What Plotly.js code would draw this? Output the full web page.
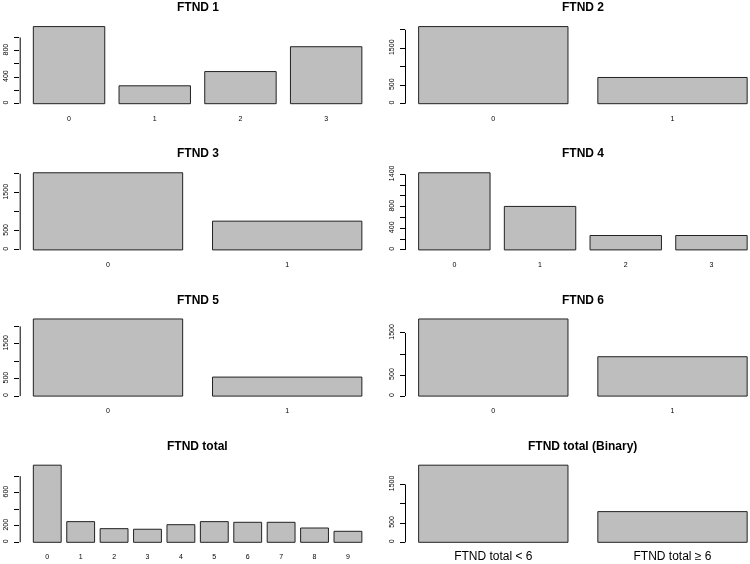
<!DOCTYPE html>
<html>
<head>
<meta charset="utf-8">
<script src="https://cdn.plot.ly/plotly-3.0.1.min.js"></script>
<style>
  html, body { margin: 0; padding: 0; background: #fff; }
  #plot { width: 750px; height: 564px; will-change: transform; -webkit-font-smoothing: antialiased; }
</style>
</head>
<body>
<div id="plot"></div>
<script>
// category labels
var cats4 = ['0', '1', '2', '3'];
var cats2 = ['0', '1'];
var catsTotal = ['0', '1', '2', '3', '4', '5', '6', '7', '8', '9'];
var catsBinary = ['FTND total < 6', 'FTND total \u2265 6'];

// counts
var ftnd1 = [1164, 270, 485, 860];
var ftnd2 = [2088, 710];
var ftnd3 = [2026, 755];
var ftnd4 = [1430, 806, 267, 267];
var ftnd5 = [2213, 546];
var ftnd6 = [1833, 936];
var ftndTotal = [933, 250, 165, 158, 213, 250, 242, 242, 173, 133];
var ftndBinary = [2000, 796];

// y axis ticks and which of them get a label
var ticks1 = [0, 200, 400, 600, 800, 1000];
var labels1 = ['0', '', '400', '', '800', ''];
var ticks2 = [0, 500, 1000, 1500, 2000];
var labels2 = ['0', '500', '', '1500', ''];
var ticks4 = [0, 200, 400, 600, 800, 1000, 1200, 1400];
var labels4 = ['0', '', '400', '', '800', '', '', '1400'];
var ticks6 = [0, 500, 1000, 1500];
var labels6 = ['0', '500', '', '1500'];
var ticksTotal = [0, 200, 400, 600, 800];
var labelsTotal = ['0', '200', '', '600', ''];

var panels = [
  {title: 'FTND 1', cats: cats4, vals: ftnd1, ticks: ticks1, labels: labels1},
  {title: 'FTND 2', cats: cats2, vals: ftnd2, ticks: ticks2, labels: labels2},
  {title: 'FTND 3', cats: cats2, vals: ftnd3, ticks: ticks2, labels: labels2},
  {title: 'FTND 4', cats: cats4, vals: ftnd4, ticks: ticks4, labels: labels4},
  {title: 'FTND 5', cats: cats2, vals: ftnd5, ticks: ticks2, labels: labels2},
  {title: 'FTND 6', cats: cats2, vals: ftnd6, ticks: ticks6, labels: labels6},
  {title: 'FTND total', cats: catsTotal, vals: ftndTotal, ticks: ticksTotal, labels: labelsTotal},
  {title: 'FTND total (Binary)', cats: catsBinary, vals: ftndBinary, ticks: ticks6, labels: labels6, big: true}
];

var W = 750, H = 564;
var font = 'Liberation Sans, Arial, sans-serif';
var plotW = 354.8, plotH = 83.3;
var colX = [20.2, 405.5];

var data = [];
var layout = {
  width: W, height: H,
  margin: {l: 0, r: 0, t: 0, b: 0},
  paper_bgcolor: '#fff', plot_bgcolor: '#fff',
  showlegend: false,
  font: {family: font, color: '#000'},
  annotations: [],
  shapes: []
};

panels.forEach(function (p, i) {
  var row = Math.floor(i / 2), col = i % 2;
  var n = p.vals.length;
  var xs = p.vals.map(function (v, k) { return 0.7 + 1.2 * k; });
  var ext = 0.04 * (1.2 * n - 0.2);
  var lo = 0.2 - ext, hi = 1.2 * n + ext;
  var x0 = colX[col], x1 = x0 + plotW;
  if (x1 > W) {
    hi = lo + (hi - lo) * (W - x0) / plotW;
    x1 = W;
  }
  var zero = 103.7 + 146.2 * row;
  var bottom = zero + 3.09, top = bottom - plotH;
  var ymax = Math.max.apply(null, p.vals);
  var sfx = i === 0 ? '' : String(i + 1);

  data.push({
    type: 'bar', x: xs, y: p.vals, width: 1,
    xaxis: 'x' + sfx, yaxis: 'y' + sfx,
    marker: {color: '#bebebe', line: {color: '#222', width: 1}},
    hoverinfo: 'x+y'
  });

  layout['xaxis' + sfx] = {
    domain: [x0 / W, x1 / W], range: [lo, hi], anchor: 'y' + sfx,
    showgrid: false, zeroline: false, showline: false, ticks: '',
    tickmode: 'array', tickvals: xs, ticktext: p.cats,
    tickfont: {size: p.big ? 12 : 7, family: font, color: '#000'},
    ticklabelstandoff: p.big ? 2 : 6
  };
  layout['yaxis' + sfx] = {
    domain: [1 - bottom / H, 1 - top / H], range: [-0.04 * ymax, 1.04 * ymax],
    anchor: 'x' + sfx,
    showgrid: false, zeroline: false, showline: false,
    ticks: 'outside', ticklen: 5, tickwidth: 1, tickcolor: '#000',
    tickmode: 'array', tickvals: p.ticks, ticktext: p.labels,
    tickangle: -90, tickfont: {size: 7, family: font, color: '#000'},
    ticklabelstandoff: 3
  };
  // R style axis line that runs only between first and last tick
  layout.shapes.push({
    type: 'line', xref: 'x' + sfx + ' domain', yref: 'y' + sfx,
    x0: 0, x1: 0, y0: p.ticks[0], y1: p.ticks[p.ticks.length - 1],
    line: {color: '#000', width: 1}
  });
  layout.annotations.push({
    text: '<b>' + p.title + '</b>', showarrow: false,
    xref: 'paper', yref: 'paper',
    x: (x0 + plotW / 2) / W, y: 1 - (top - 16.3) / H,
    xanchor: 'center', yanchor: 'middle',
    font: {size: 12, family: font, color: '#000'}
  });
});

Plotly.newPlot('plot', data, layout, {displayModeBar: false, staticPlot: true});
</script>
</body>
</html>
